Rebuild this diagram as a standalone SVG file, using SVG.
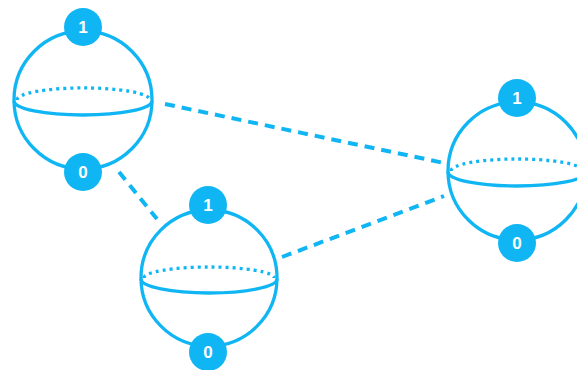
<svg xmlns="http://www.w3.org/2000/svg" width="577" height="370" viewBox="0 0 577 370">
  <style>
    .shell { fill: none; stroke: #10B6F4; stroke-width: 3.3; }
    .back { fill: none; stroke: #10B6F4; stroke-width: 3.3; stroke-dasharray: 3 4; }
    .front { fill: none; stroke: #10B6F4; stroke-width: 3.3; }
    .badge { fill: #10B6F4; }
    .lbl { fill: #ffffff; font-family: "Liberation Sans", Arial, sans-serif; font-weight: bold; font-size: 17px; text-anchor: middle; }
    .link { fill: none; stroke: #10B6F4; stroke-width: 4; stroke-dasharray: 10 7; }
  </style>
  <rect width="577" height="370" fill="#ffffff"/>

  <g id="connectors">
    <line class="link" x1="165" y1="104" x2="444" y2="163"/>
    <line class="link" x1="282" y1="257" x2="444" y2="196"/>
    <line class="link" x1="119" y1="172" x2="157" y2="219"/>
  </g>

  <g id="sphere-a">
    <circle class="shell" cx="83" cy="100" r="69"/>
    <path class="back" d="M17,100 A66,12 0 0 1 150,100"/>
    <path class="front" d="M14,101 A69,14 0 0 0 152,101"/>
    <circle class="badge" cx="83" cy="27" r="19"/>
    <text class="lbl" x="83" y="33">1</text>
    <circle class="badge" cx="83" cy="172" r="19"/>
    <text class="lbl" x="83" y="178">0</text>
  </g>

  <g id="sphere-b">
    <circle class="shell" cx="209" cy="278" r="68"/>
    <path class="back" d="M144,278 A65,11 0 0 1 274,278"/>
    <path class="front" d="M141,279 A68,14 0 0 0 277,279"/>
    <circle class="badge" cx="208" cy="205" r="19"/>
    <text class="lbl" x="208" y="211">1</text>
    <circle class="badge" cx="208" cy="352" r="19"/>
    <text class="lbl" x="208" y="358">0</text>
  </g>

  <g id="sphere-c">
    <circle class="shell" cx="517" cy="171" r="69"/>
    <path class="back" d="M451,171 A66,12 0 0 1 583,171"/>
    <path class="front" d="M448,172 A69,14 0 0 0 586,172"/>
    <circle class="badge" cx="517" cy="98" r="19"/>
    <text class="lbl" x="517" y="104">1</text>
    <circle class="badge" cx="517" cy="243" r="19"/>
    <text class="lbl" x="517" y="249">0</text>
  </g>
</svg>
